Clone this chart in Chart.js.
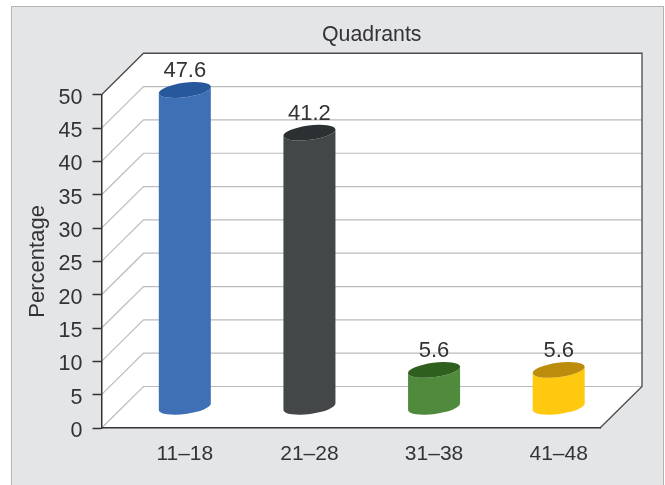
<!DOCTYPE html>
<html>
<head>
<meta charset="utf-8">
<style>
    html, body { margin: 0; padding: 0; background: #fff; }
    #panel {
        position: absolute; left: 11px; top: 6px; width: 651px; height: 480px;
        background: #e4e5e7; border: 1.5px solid #b4b4b4; border-bottom: 0;
    }
    #myChart { position: absolute; left: 0; top: 0; }
</style>
<script src="https://cdn.jsdelivr.net/npm/chart.js@4/dist/chart.umd.js"></script>
</head>
<body>
<div id="panel"></div>
<canvas id="myChart" width="665" height="485"></canvas>
<script>
const categories = ["11–18", "21–28", "31–38", "41–48"];
const percentages = [47.6, 41.2, 5.6, 5.6];
const bodyColors = ["#3f70b6", "#434748", "#508a3c", "#ffc910"];
const capColors = ["#27589c", "#2b3032", "#2e5f1e", "#bc8c0c"];

const FONT = "'Liberation Sans', Arial, sans-serif";
const TEXT = "#333335";
// how far the back wall sits behind the axes
const DEPTH_X = 42;
const DEPTH_Y = 41.5;
const TILT = -7.5 * Math.PI / 180;

// bars are drawn as tilted cylinders standing in the middle of the floor
Chart.BarElement.prototype.draw = function (ctx) {
    const { x, y, base, width } = this.getProps(["x", "y", "base", "width"], true);
    const cx = x + DEPTH_X / 2;
    const top = y - DEPTH_Y / 2;
    const bottom = base - DEPTH_Y / 2;
    const rx = width / 2 / Math.cos(TILT);
    const ry = 7.2;

    ctx.save();
    ctx.fillStyle = this.options.backgroundColor;
    ctx.beginPath();
    ctx.ellipse(cx, bottom, rx, ry, TILT, 0, Math.PI);
    ctx.ellipse(cx, top, rx, ry, TILT, Math.PI, 0, true);
    ctx.closePath();
    ctx.fill();

    ctx.fillStyle = this.options.borderColor;
    ctx.beginPath();
    ctx.ellipse(cx, top, rx, ry, TILT, 0, Math.PI * 2);
    ctx.fill();
    ctx.restore();
};

const wallsPlugin = {
    id: "walls",
    beforeDraw(chart) {
        const ctx = chart.ctx;
        const { left, right, top, bottom } = chart.chartArea;
        const yScale = chart.scales.y;

        // keep the title centred over the full width of the box
        chart.titleBlock.left = left;
        chart.titleBlock.right = right + DEPTH_X;

        ctx.save();
        ctx.fillStyle = "#fff";
        ctx.beginPath();
        ctx.moveTo(left, bottom);
        ctx.lineTo(left, top);
        ctx.lineTo(left + DEPTH_X, top - DEPTH_Y);
        ctx.lineTo(right + DEPTH_X, top - DEPTH_Y);
        ctx.lineTo(right + DEPTH_X, bottom - DEPTH_Y);
        ctx.lineTo(right, bottom);
        ctx.closePath();
        ctx.fill();

        ctx.strokeStyle = "#bbbcbe";
        ctx.lineWidth = 1.2;
        yScale.ticks.forEach((tick) => {
            const py = yScale.getPixelForValue(tick.value);
            if (tick.value === 50) return;
            ctx.beginPath();
            ctx.moveTo(left, py);
            ctx.lineTo(left + DEPTH_X, py - DEPTH_Y);
            ctx.lineTo(right + DEPTH_X, py - DEPTH_Y);
            ctx.stroke();
        });

        ctx.strokeStyle = "#4a4a4c";
        ctx.lineWidth = 1.3;
        ctx.beginPath();
        ctx.moveTo(left, top);
        ctx.lineTo(left + DEPTH_X, top - DEPTH_Y);
        ctx.lineTo(right + DEPTH_X, top - DEPTH_Y);
        ctx.lineTo(right + DEPTH_X, bottom - DEPTH_Y);
        ctx.lineTo(right, bottom);
        ctx.stroke();
        ctx.restore();
    },
    afterDatasetsDraw(chart) {
        const ctx = chart.ctx;
        ctx.save();
        ctx.font = "22px " + FONT;
        ctx.fillStyle = TEXT;
        ctx.textAlign = "center";
        ctx.textBaseline = "middle";
        chart.getDatasetMeta(0).data.forEach((bar, i) => {
            const text = percentages[i].toFixed(1);
            ctx.fillText(text, bar.x + DEPTH_X / 2, bar.y - DEPTH_Y / 2 - 19);
        });
        ctx.restore();
    },
};

const config = {
    type: "bar",
    data: {
        labels: categories,
        datasets: [
            {
                data: percentages,
                backgroundColor: bodyColors,
                borderColor: capColors,
                borderWidth: 0,
                barThickness: 52,
                clip: false,
            },
        ],
    },
    plugins: [wallsPlugin],
    options: {
        responsive: false,
        animation: false,
        layout: { padding: { left: 0, right: 65, top: 0, bottom: 0 } },
        plugins: {
            legend: { display: false },
            tooltip: { enabled: false },
            title: {
                display: true,
                text: "Quadrants",
                color: TEXT,
                font: { family: FONT, size: 21.3, weight: "normal", lineHeight: 1.2 },
                padding: { top: 22, bottom: 47.2 },
            },
        },
        scales: {
            x: {
                afterFit: (scale) => { scale.height = 57; },
                grid: { drawOnChartArea: false, drawTicks: false },
                border: { color: "#333335", width: 1.5 },
                ticks: {
                    color: TEXT,
                    font: { family: FONT, size: 21 },
                    labelOffset: DEPTH_X / 2,
                    padding: 14,
                    maxRotation: 0,
                },
            },
            y: {
                min: 0,
                max: 50,
                afterFit: (scale) => { scale.width = 101.5; },
                grid: { drawOnChartArea: false, tickLength: 9, tickColor: "#333335", tickWidth: 1.5 },
                border: { color: "#333335", width: 1.5 },
                ticks: {
                    stepSize: 5,
                    color: TEXT,
                    font: { family: FONT, size: 21.5 },
                    padding: 10,
                    labelOffset: 3,
                },
                title: {
                    display: true,
                    text: "Percentage",
                    color: TEXT,
                    font: { family: FONT, size: 22 },
                    padding: { top: 25, bottom: 0 },
                },
            },
        },
    },
};

const myChart = new Chart(document.getElementById("myChart"), config);
</script>
</body>
</html>
